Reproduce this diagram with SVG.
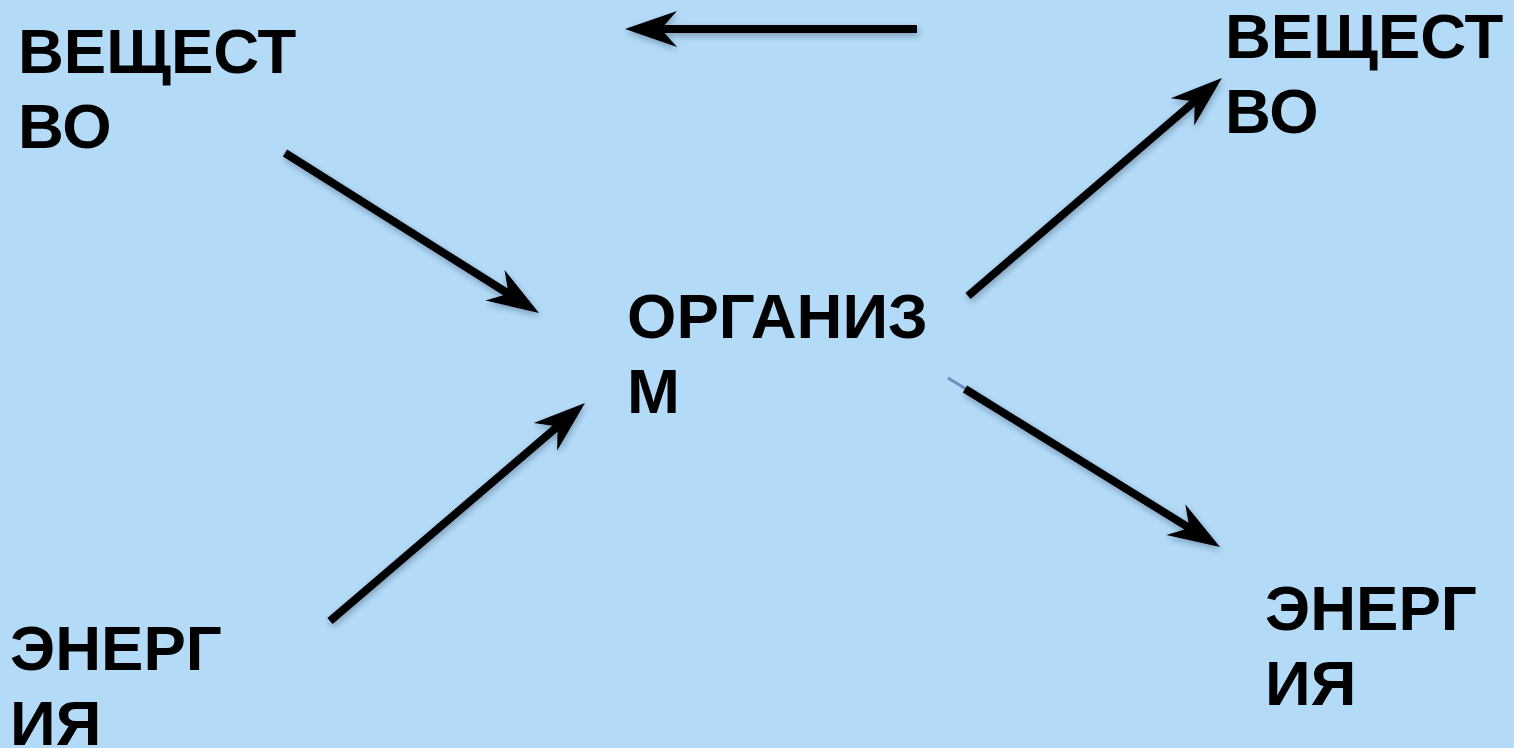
<svg xmlns="http://www.w3.org/2000/svg" width="1514" height="748" viewBox="0 0 1514 748">
  <style>
    .lbl { font-family: "Liberation Sans", Arial, sans-serif; font-weight: bold; font-size: 63.5px; fill: #000; }
    .arrow { fill: none; stroke: #000; stroke-width: 8; marker-end: url(#head); filter: url(#shadow); }
  </style>
  <defs>
    <!-- user-space region so the horizontal (zero-height) path still renders -->
    <filter id="shadow" filterUnits="userSpaceOnUse" x="0" y="0" width="1514" height="748">
      <feDropShadow dx="1" dy="3" stdDeviation="3" flood-color="#1a2a40" flood-opacity="0.35"/>
    </filter>
    <marker id="head" markerUnits="userSpaceOnUse" viewBox="-30 -22 70 44" markerWidth="70" markerHeight="44" refX="0" refY="0" orient="auto" overflow="visible">
      <path d="M30,0 L-22,-18 L-6,0 L-22,18 Z" fill="#000"/>
    </marker>
  </defs>

  <rect width="1514" height="748" fill="#b3dbf8"/>

  <g id="substance-in">
    <text class="lbl" x="18" y="73">ВЕЩЕСТ</text>
    <text class="lbl" x="18" y="148">ВО</text>
  </g>
  <g id="substance-out">
    <text class="lbl" x="1225" y="58">ВЕЩЕСТ</text>
    <text class="lbl" x="1225" y="133">ВО</text>
  </g>
  <g id="organism">
    <text class="lbl" x="627" y="338">ОРГАНИЗ</text>
    <text class="lbl" x="627" y="413">М</text>
  </g>
  <g id="energy-in">
    <text class="lbl" x="10" y="670">ЭНЕРГ</text>
    <text class="lbl" x="10" y="745">ИЯ</text>
  </g>
  <g id="energy-out">
    <text class="lbl" x="1265" y="630">ЭНЕРГ</text>
    <text class="lbl" x="1265" y="705">ИЯ</text>
  </g>

  <g id="connectors">
    <path class="arrow" d="M917,29 L655,29"/>
    <path class="arrow" d="M285,153 L513.6,297"/>
    <path class="arrow" d="M330,621 L562.2,422.5"/>
    <path class="arrow" d="M968,296 L1199.2,97.5"/>
    <line x1="948" y1="378" x2="966" y2="389" stroke="#6f8fbf" stroke-width="3"/>
    <path class="arrow" d="M965,389 L1194.5,531.2"/>
  </g>
</svg>
